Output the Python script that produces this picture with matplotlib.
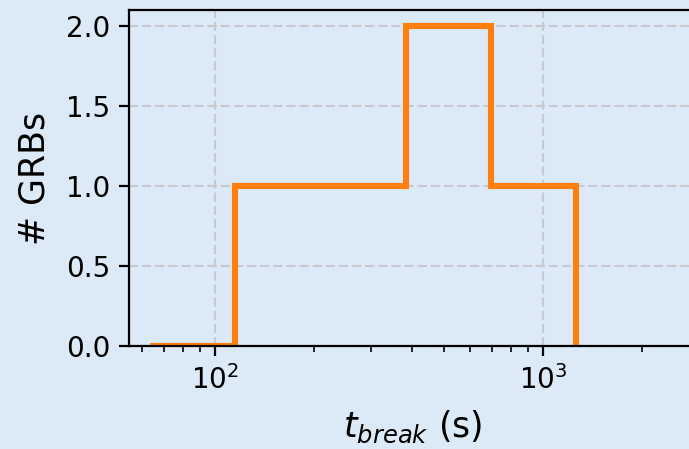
import matplotlib.pyplot as plt
import numpy as np

# break times histogram: log-spaced bin edges (s) and counts per bin
bin_edges = [63.4, 115.3, 209.9, 382.0, 695.0, 1265.0]
counts = [0, 1, 1, 2, 1]

BG = '#dce9f6'

fig = plt.figure(figsize=(6.89, 4.49), dpi=100)
fig.patch.set_facecolor(BG)
ax = fig.add_axes([0.187, 0.2294, 0.823, 0.7483])
ax.set_facecolor(BG)

ax.stairs(counts, bin_edges, color='#ff7f0e', linewidth=4.4, baseline=0)

ax.set_xscale('log')
ax.set_xlim(54.7, 2925)
ax.set_ylim(0, 2.1)
ax.set_yticks([0.0, 0.5, 1.0, 1.5, 2.0])

ax.grid(True, which='major', linestyle='--', dashes=(4.3, 2.0),
        color='#c6c9cd', linewidth=1.5)
ax.set_axisbelow(True)

for s in ax.spines.values():
    s.set_linewidth(1.6)
ax.tick_params(axis='both', which='major', labelsize=20, length=7.5, width=1.6, pad=6)
ax.tick_params(axis='both', which='minor', length=4, width=1.2)

ax.set_xlabel(r'$t_{break}$ (s)', fontsize=25, labelpad=10)
ax.set_ylabel('# GRBs', fontsize=25, labelpad=10)

fig.savefig('out.png', dpi=100, facecolor=BG)
